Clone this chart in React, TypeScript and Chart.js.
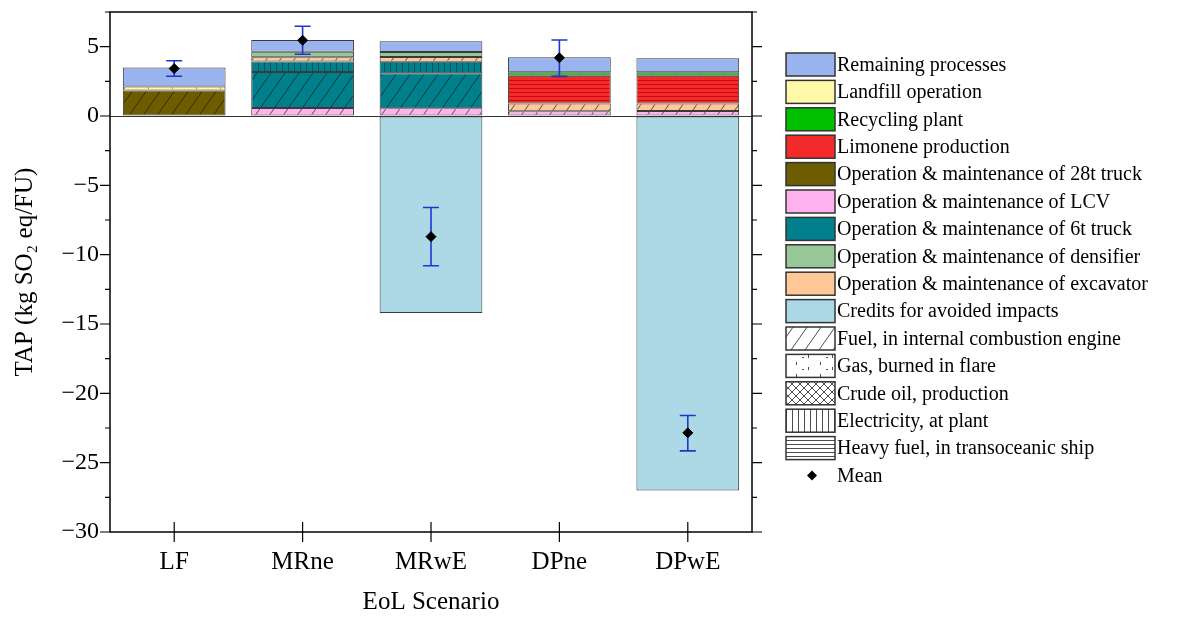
import React, { useEffect, useRef } from 'react';
import { Chart, registerables } from 'chart.js';
Chart.register(...registerables);

const categories = ['LF', 'MRne', 'MRwE', 'DPne', 'DPwE'];

// stacked contributions (kg SO2 eq/FU), bottom to top
const credits = [null, null, -14.2, null, -27.0];
const truck28Fuel = [1.83, null, null, null, null];
const lcvFuel = [null, 0.58, 0.55, 0.35, 0.36];
const truck6Fuel = [null, 2.6, 2.53, null, null];
const truck6Elec = [null, 0.75, 0.84, null, null];
const excavatorFuel = [null, 0.3, 0.34, 0.56, 0.55];
const limoneneShip = [null, null, null, 2.0, 2.0];
const landfillGas = [0.3, null, null, null, null];
const densifier = [null, 0.4, 0.36, null, null];
const recyclingGas = [null, null, null, 0.24, 0.24];
const remaining = [1.36, 0.85, 0.77, 1.08, 1.01];

const meanValues = [3.42, 5.46, -8.7, 4.2, -22.85];
const errLow = [2.87, 4.45, -10.8, 2.86, -24.15];
const errHigh = [3.98, 6.47, -6.6, 5.48, -21.6];

const legendLabels = [
  'Remaining processes',
  'Landfill operation',
  'Recycling plant',
  'Limonene production',
  'Operation & maintenance of 28t truck',
  'Operation & maintenance of LCV',
  'Operation & maintenance of 6t truck',
  'Operation & maintenance of densifier',
  'Operation & maintenance of excavator',
  'Credits for avoided impacts',
  'Fuel, in internal combustion engine',
  'Gas, burned in flare',
  'Crude oil, production',
  'Electricity, at plant',
  'Heavy fuel, in transoceanic ship',
  'Mean',
];

const C = {
  remaining: '#99B4EE',
  landfill: '#FFF8A8',
  recycling: '#00C000',
  limonene: '#F42A2A',
  truck28: '#6E5C00',
  lcv: '#FFB2EE',
  truck6: '#00808C',
  densifier: '#98C898',
  excavator: '#FFC896',
  credits: '#ADD8E6',
};

const FONT = 'Liberation Serif';

type Kind = 'none' | 'diag' | 'vert' | 'horiz' | 'cross' | 'gas';

function makeFill(ctx: CanvasRenderingContext2D, bg: string, kind: Kind, line = '#1a1a1a'): any {
  if (kind === 'none') return bg;
  const w = kind === 'diag' ? 14 : kind === 'vert' ? 6 : kind === 'horiz' ? 4 : kind === 'cross' ? 8 : 24;
  const h = kind === 'diag' ? 20 : kind === 'vert' ? 6 : kind === 'horiz' ? 4 : kind === 'cross' ? 8 : 12;
  const c = document.createElement('canvas');
  c.width = w;
  c.height = h;
  const g = c.getContext('2d')!;
  g.fillStyle = bg;
  g.fillRect(0, 0, w, h);
  g.strokeStyle = line;
  g.lineWidth = 0.7;
  g.beginPath();
  if (kind === 'diag') {
    for (const dx of [-w, 0, w]) {
      g.moveTo(dx, h);
      g.lineTo(dx + w, 0);
    }
  } else if (kind === 'vert') {
    g.moveTo(0.5, 0);
    g.lineTo(0.5, h);
  } else if (kind === 'horiz') {
    g.moveTo(0, 0.5);
    g.lineTo(w, 0.5);
  } else if (kind === 'cross') {
    for (const dx of [-w, 0, w]) {
      g.moveTo(dx, h);
      g.lineTo(dx + w, 0);
      g.moveTo(dx, 0);
      g.lineTo(dx + w, h);
    }
  } else if (kind === 'gas') {
    g.moveTo(4.5, 2);
    g.lineTo(4.5, 5);
    g.moveTo(16.5, 7);
    g.lineTo(16.5, 10);
    g.moveTo(10, 9.5);
    g.lineTo(12, 9.5);
  }
  g.stroke();
  return ctx.createPattern(c, 'repeat');
}

const minusFmt = (v: number) => (v < 0 ? '\u2212' + Math.abs(v) : String(v));

export default function App() {
  const ref = useRef<HTMLCanvasElement>(null);

  useEffect(() => {
    document.body.style.margin = '0';
    const canvas = ref.current!;
    const ctx = canvas.getContext('2d')!;

    const segs = [
      { label: 'Credits for avoided impacts', data: credits, bg: makeFill(ctx, C.credits, 'none') },
      { label: '28t truck fuel', data: truck28Fuel, bg: makeFill(ctx, C.truck28, 'diag') },
      { label: 'LCV fuel', data: lcvFuel, bg: makeFill(ctx, C.lcv, 'diag') },
      { label: '6t truck fuel', data: truck6Fuel, bg: makeFill(ctx, C.truck6, 'diag') },
      { label: '6t truck electricity', data: truck6Elec, bg: makeFill(ctx, C.truck6, 'vert', '#0a3c44') },
      { label: 'Excavator fuel', data: excavatorFuel, bg: makeFill(ctx, C.excavator, 'diag') },
      { label: 'Limonene production', data: limoneneShip, bg: makeFill(ctx, C.limonene, 'horiz', '#b00000') },
      { label: 'Landfill operation', data: landfillGas, bg: makeFill(ctx, C.landfill, 'gas', '#666') },
      { label: 'Densifier', data: densifier, bg: makeFill(ctx, C.densifier, 'none') },
      { label: 'Recycling plant', data: recyclingGas, bg: makeFill(ctx, C.recycling, 'gas', '#0a5a0a') },
      { label: 'Remaining processes', data: remaining, bg: makeFill(ctx, C.remaining, 'none') },
    ];

    const legendFills = [
      { fill: C.remaining },
      { fill: C.landfill },
      { fill: C.recycling },
      { fill: C.limonene },
      { fill: C.truck28 },
      { fill: C.lcv },
      { fill: C.truck6 },
      { fill: C.densifier },
      { fill: C.excavator },
      { fill: C.credits },
      { fill: makeFill(ctx, '#ffffff', 'diag', '#000') },
      { fill: makeFill(ctx, '#ffffff', 'gas', '#000') },
      { fill: makeFill(ctx, '#ffffff', 'cross', '#000') },
      { fill: makeFill(ctx, '#ffffff', 'vert', '#000') },
      { fill: makeFill(ctx, '#ffffff', 'horiz', '#000') },
      { fill: null },
    ];

    const meanIndex = segs.length;

    const framePlugin = {
      id: 'frame',
      afterDatasetsDraw(chart: any) {
        const { ctx: c, chartArea: a, scales } = chart;
        const y = scales.y;
        const x = scales.x;
        c.save();
        // frame
        c.strokeStyle = '#000';
        c.lineWidth = 1.5;
        c.strokeRect(a.left, a.top, a.right - a.left, a.bottom - a.top);
        // y ticks both sides
        c.lineWidth = 1.2;
        c.beginPath();
        y.ticks.forEach((t: any) => {
          const py = y.getPixelForValue(t.value);
          const len = Math.abs(t.value % 5) < 1e-6 ? 10 : 5;
          c.moveTo(a.left, py);
          c.lineTo(a.left - len, py);
          c.moveTo(a.right, py);
          c.lineTo(a.right + len, py);
        });
        // x ticks crossing the axis
        categories.forEach((_, i) => {
          const px = x.getPixelForValue(i);
          c.moveTo(px, a.bottom - 10);
          c.lineTo(px, a.bottom + 10);
        });
        c.stroke();
        c.restore();
      },
      beforeDatasetDraw(chart: any, args: any) {
        if (args.index !== meanIndex) return;
        const { ctx: c, scales, chartArea: a } = chart;
        c.save();
        // zero line
        const zy = Math.round(scales.y.getPixelForValue(0)) + 0.5;
        c.strokeStyle = '#333';
        c.lineWidth = 1;
        c.beginPath();
        c.moveTo(a.left, zy);
        c.lineTo(a.right, zy);
        c.stroke();
        // error bars
        c.strokeStyle = '#1F35D0';
        c.lineWidth = 1.6;
        c.beginPath();
        categories.forEach((_, i) => {
          const px = scales.x.getPixelForValue(i);
          const y1 = scales.y.getPixelForValue(errLow[i]);
          const y2 = scales.y.getPixelForValue(errHigh[i]);
          c.moveTo(px, y1);
          c.lineTo(px, y2);
          c.moveTo(px - 8, y1);
          c.lineTo(px + 8, y1);
          c.moveTo(px - 8, y2);
          c.lineTo(px + 8, y2);
        });
        c.stroke();
        c.restore();
      },
      afterDraw(chart: any) {
        const { ctx: c, chartArea: a } = chart;
        const bx = a.right + 34;
        const bw = 49;
        const bh = 23;
        const y0 = a.top + 52.5;
        const step = 27.4;
        c.save();
        c.font = `20px "${FONT}"`;
        c.textBaseline = 'middle';
        c.textAlign = 'left';
        legendLabels.forEach((lab, i) => {
          const cy = y0 + i * step;
          const f = legendFills[i].fill;
          if (f) {
            c.fillStyle = f;
            c.fillRect(bx, cy - bh / 2, bw, bh);
            c.strokeStyle = '#333';
            c.lineWidth = 1.5;
            c.strokeRect(bx, cy - bh / 2, bw, bh);
          } else {
            c.fillStyle = '#000';
            c.beginPath();
            const mx = bx + 26;
            c.moveTo(mx, cy - 5);
            c.lineTo(mx + 5, cy);
            c.lineTo(mx, cy + 5);
            c.lineTo(mx - 5, cy);
            c.closePath();
            c.fill();
          }
          c.fillStyle = '#000';
          c.fillText(lab, bx + bw + 2, cy + 1);
        });
        c.restore();
      },
    };

    const chart = new Chart(ctx, {
      type: 'bar',
      data: {
        labels: categories,
        datasets: [
          ...segs.map((s) => ({
            type: 'bar' as const,
            label: s.label,
            data: s.data as any,
            backgroundColor: s.bg,
            borderColor: '#3a3a3a',
            borderWidth: 1,
            borderSkipped: false as any,
            barPercentage: 0.8,
            categoryPercentage: 1,
            stack: 'bars',
            order: 1,
          })),
          {
            type: 'line' as const,
            label: 'Mean',
            data: meanValues,
            showLine: false,
            pointStyle: 'rectRot',
            pointRadius: 5,
            pointBackgroundColor: '#000',
            pointBorderColor: '#000',
            pointBorderWidth: 1,
            stack: 'mean',
            order: 0,
          } as any,
        ],
      },
      options: {
        animation: false,
        responsive: false,
        layout: { padding: { left: 0, right: 427, top: 12, bottom: 0 } },
        plugins: { legend: { display: false }, tooltip: { enabled: false } },
        scales: {
          x: {
            stacked: true,
            grid: { display: true, drawOnChartArea: false, drawTicks: true, tickLength: 10, color: 'rgba(0,0,0,0)' },
            border: { display: false },
            ticks: { font: { family: FONT, size: 25 }, color: '#000', padding: 5 },
            title: { display: true, text: 'EoL Scenario', font: { family: FONT, size: 25 }, color: '#000', padding: { top: 0, bottom: 0 } },
            afterFit: (s: any) => {
              s.height = 85;
              s.paddingLeft = 0;
              s.paddingRight = 0;
            },
          },
          y: {
            stacked: true,
            min: -30,
            max: 7.5,
            grid: { display: true, drawOnChartArea: false, drawTicks: true, tickLength: 10, color: 'rgba(0,0,0,0)' },
            border: { display: false },
            ticks: {
              stepSize: 2.5,
              autoSkip: false,
              padding: 1,
              font: { family: FONT, size: 24 },
              color: '#000',
              callback: (v: any) => (Math.abs(v % 5) < 1e-6 ? minusFmt(v) : ''),
            },
            title: { display: true, text: 'TAP (kg SO\u2082 eq/FU)', font: { family: FONT, size: 25 }, color: '#000', padding: { top: 10, bottom: 0 } },
            afterFit: (s: any) => {
              s.width = 110;
              s.paddingTop = 0;
              s.paddingBottom = 0;
            },
          },
        },
      } as any,
      plugins: [framePlugin],
    });
    return () => chart.destroy();
  }, []);

  return (
    <div style={{ width: 1179, height: 617, background: '#fff' }}>
      <canvas ref={ref} width={1179} height={617} style={{ display: 'block' }} />
    </div>
  );
}
